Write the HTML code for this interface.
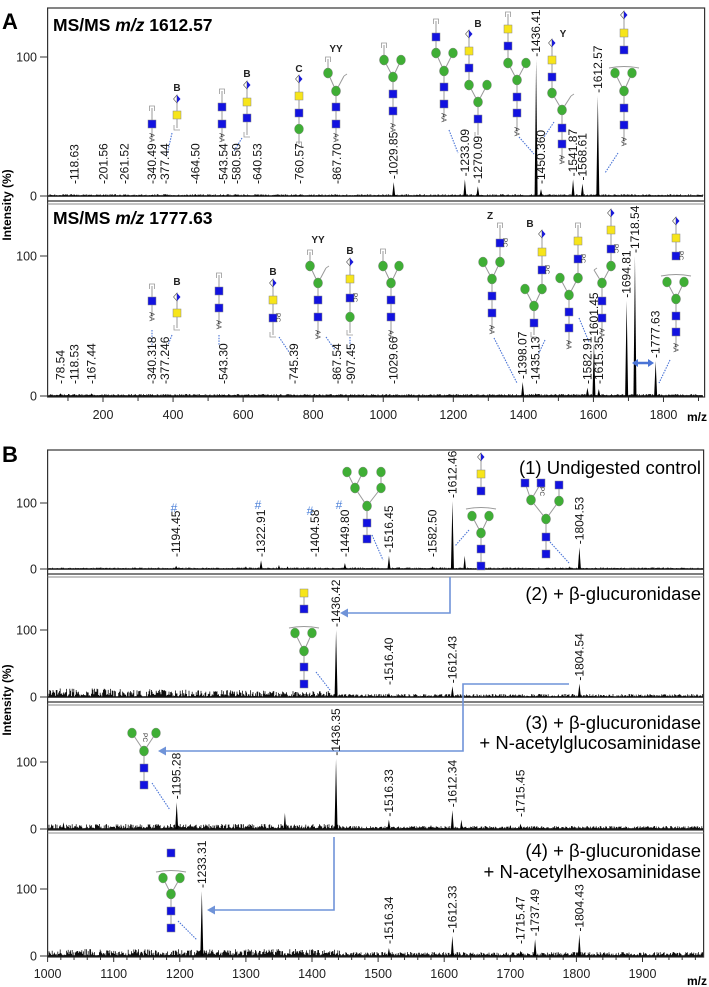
<!DOCTYPE html>
<html><head><meta charset="utf-8"><style>
html,body{margin:0;padding:0;background:#fff;}
svg{display:block;}
text{font-family:"Liberation Sans",sans-serif;}
.nar{font-family:"Liberation Sans Narrow","Liberation Sans",sans-serif;}
</style></head><body>
<svg id="fig" width="709" height="987" viewBox="0 0 709 987" xmlns="http://www.w3.org/2000/svg">
<g id="frames"></g>
<g id="noise"></g>
<g id="peaks"></g>
<g id="cartoons"></g>
<g id="texts"></g>
</svg>
<script>
// ---- Panel A data ----
const mzA1 = [118.63,201.56,261.52,340.49,377.44,464.50,543.54,580.50,640.53,760.57,867.70,1029.85,1233.09,1270.09,1436.41,1450.36,1541.87,1568.61,1612.57];
const intA1 = [1,1,1,1,1,1,1,1,1,1,1,10,12,7,98,5,12,9,72];
const labA1 = ["118.63","201.56","261.52","340.49","377.44","464.50","543.54","580.50","640.53","760.57","867.70","1029.85","1233.09","1270.09","1436.41","1450.360","1541.87","1568.61","1612.57"];
const mzA2 = [78.54,118.53,167.44,340.318,377.246,543.30,745.39,867.54,907.45,1029.66,1398.07,1435.13,1582.91,1601.45,1615.35,1694.81,1718.54,1777.63];
const intA2 = [2,1,2,1,1,1,1,1,1,1,10,2,6,38,5,68,100,25];
const labA2 = ["78.54","118.53","167.44","340.318","377.246","543.30","745.39","867.54","907.45","1029.66","1398.07","1435.13","1582.91","1601.45","1615.35","1694.81","1718.54","1777.63"];
const ticksA = [200,400,600,800,1000,1200,1400,1600,1800];
// ---- Panel B data ----
const mzB1 = [1194.45,1322.91,1404.58,1449.80,1516.45,1582.50,1612.46,1804.53];
const intB1 = [5,13,3,9,20,4,103,33];
const labB1 = ["1194.45","1322.91","1404.58","1449.80","1516.45","1582.50","1612.46","1804.53"];
const minorMzB1 = [1300,1350,1363,1532,1594,1631,1790];
const minorIntB1 = [4,6,4,3,3,20,4];
const mzB2 = [1436.42,1516.40,1612.43,1804.54];
const intB2 = [100,6,16,20];
const labB2 = ["1436.42","1516.40","1612.43","1804.54"];
const mzB3 = [1195.28,1436.35,1516.33,1612.34,1715.45];
const intB3 = [40,105,14,28,8];
const labB3 = ["1195.28","1436.35","1516.33","1612.34","1715.45"];
const minorMzB3 = [1024,1359,1580,1626,1700];
const minorIntB3 = [10,24,6,14,6];
const mzB4 = [1233.31,1516.34,1612.33,1715.47,1737.49,1804.43];
const intB4 = [97,12,30,8,25,32];
const labB4 = ["1233.31","1516.34","1612.33","1715.47","1737.49","1804.43"];
const ticksB = [1000,1100,1200,1300,1400,1500,1600,1700,1800,1900];

const NS="http://www.w3.org/2000/svg";
function mk(parent,tag,attrs,txt){const e=document.createElementNS(NS,tag);for(const k in attrs)e.setAttribute(k,attrs[k]);if(txt!==undefined)e.textContent=txt;document.getElementById(parent).appendChild(e);return e;}
const xA = mz => 103 + (mz-200)*0.3503;
const xB = mz => 47.6 + (mz-1000)*0.661;
function yS(y0,y100){return v => y0 - v/100*(y0-y100);}

const panels = [
 {name:"a1",mz:mzA1,it:intA1,lab:labA1,x:xA,y0:196,y100:57},
 {name:"a2",mz:mzA2,it:intA2,lab:labA2,x:xA,y0:396,y100:256},
 {name:"b1",mz:mzB1,it:intB1,lab:labB1,x:xB,y0:569,y100:503,mmz:minorMzB1,mit:minorIntB1},
 {name:"b2",mz:mzB2,it:intB2,lab:labB2,x:xB,y0:697,y100:630},
 {name:"b3",mz:mzB3,it:intB3,lab:labB3,x:xB,y0:829,y100:762,mmz:minorMzB3,mit:minorIntB3},
 {name:"b4",mz:mzB4,it:intB4,lab:labB4,x:xB,y0:956,y100:889}
];

// frames
let r=mk("frames","rect",{x:47.6,y:8,width:657,height:389,fill:"none",stroke:"#333","stroke-width":1.2});


r=mk("frames","rect",{x:47.6,y:450,width:656,height:507,fill:"none",stroke:"#333","stroke-width":1.2});


[[201,"#333",1.3],[204,"#888",1]].forEach(d=>{const l=mk("frames","line",{x1:47.6,x2:704.6,y1:d[0],y2:d[0],stroke:d[1],"stroke-width":d[2]});

});
[574,577,702,705,830,833].forEach((y,i)=>{const l=mk("frames","line",{x1:47.6,x2:703.6,y1:y,y2:y,stroke:i%2?"#888":"#333","stroke-width":i%2?1:1.3});

});

// y ticks
panels.forEach(p=>{
 [[0,p.y0],[100,p.y100]].forEach(t=>{
  const l=mk("frames","line",{x1:40,x2:47.6,y1:t[1],y2:t[1],stroke:"#333","stroke-width":1});
  
  
  const tx=mk("texts","text",{x:37,y:t[1]+4.5,"text-anchor":"end","font-size":12.5,class:"nar",fill:"#222"},String(t[0]));
  
  
 });
});
// x ticks A
for(let m=100;m<=1900;m+=100){const x=xA(m);if(x<48||x>704)continue;const major=ticksA.includes(m);
 const l=mk("frames","line",{x1:x,x2:x,y1:397,y2:major?402:401,stroke:"#333","stroke-width":1});
 
 }
ticksA.forEach(m=>{const t=mk("texts","text",{x:xA(m),y:419,"text-anchor":"middle","font-size":12.5,class:"nar",fill:"#222"},String(m));
 
 });
for(let m=1000;m<=1990;m+=20){const x=xB(m);const major=m%100===0;
 const l=mk("frames","line",{x1:x,x2:x,y1:957,y2:major?962:960,stroke:"#333","stroke-width":1});
 
 }
ticksB.forEach(m=>{const t=mk("texts","text",{x:xB(m),y:978,"text-anchor":"middle","font-size":12.5,class:"nar",fill:"#222"},String(m));
 
 });

// baseline noise (decorative texture)
function hash(i){const s=Math.sin(i*12.9898+78.233)*43758.5453;return s-Math.floor(s);}
function noise(y0,x1,x2,ampFn,seed){let d="";for(let x=x1;x<x2;x+=0.8){const h=ampFn(x)*hash(x*7.3+seed);d+=`M${x.toFixed(1)},${y0}V${(y0-h).toFixed(1)}`;}
 const p=mk("noise","path",{d:d,stroke:"#111","stroke-width":0.8,fill:"none"});
 
 }
noise(196,50,703,x=>1.8,1);
noise(396,50,703,x=>2,2);
noise(569,50,703,x=>1.5,3);
noise(697,49,703,x=>x<330?9-3*(x-49)/280:3,4);
noise(829,49,703,x=>x<340?5:3,5);
noise(956,49,703,x=>x<340?7:4,6);
panels.forEach(p=>{const l=mk("noise","line",{x1:48,x2:703,y1:p.y0,y2:p.y0,stroke:"#111","stroke-width":1.4});
 
 });

// peaks + labels
panels.forEach(p=>{
 const ys=yS(p.y0,p.y100);
 if(p.mmz){p.mmz.forEach((m,i)=>{const x=p.x(m),yt=ys(p.mit[i]);
  const e=mk("peaks","path",{d:`M${x-1.3},${p.y0}L${x},${yt}L${x+1.3},${p.y0}Z`,fill:"#000"});
  
  });}
 p.mz.forEach((m,i)=>{
  const x=p.x(m),yt=ys(p.it[i]);
  const e=mk("peaks","path",{d:`M${x-1.5},${p.y0}L${x},${yt}L${x+1.5},${p.y0}Z`,fill:"#000"});
  
  
  const lb=Math.min(yt,p.y0-9)-3;
  const t=mk("texts","text",{x:0,y:0,"font-size":12,fill:"#111",transform:`translate(${x+4},${lb}) rotate(-90)`},"-"+p.lab[i]);
  
  
 });
});

// titles & labels
function txt(x,y,s,attrs,name){const a=Object.assign({x:x,y:y,fill:"#000"},attrs);const t=mk("texts","text",a);t.innerHTML=s;
 
 return t;}
txt(2,29,"A",{"font-size":22,"font-weight":"bold"},"panel-a-letter");
txt(2,462,"B",{"font-size":22,"font-weight":"bold"},"panel-b-letter");
txt(53,31,"MS/MS <tspan font-style='italic'>m/z</tspan> 1612.57",{"font-size":17.5,"font-weight":"bold",class:"nar"},"title-ms-1612");
txt(53,224,"MS/MS <tspan font-style='italic'>m/z</tspan> 1777.63",{"font-size":17.5,"font-weight":"bold",class:"nar"},"title-ms-1777");
txt(11,205,"Intensity (%)",{"font-size":12,"font-weight":"bold",class:"nar","text-anchor":"middle",transform:"rotate(-90 11 205)"},"y-axis-title-a");
txt(11,700,"Intensity (%)",{"font-size":12,"font-weight":"bold",class:"nar","text-anchor":"middle",transform:"rotate(-90 11 700)"},"y-axis-title-b");
txt(697,421,"m/z",{"font-size":12,"font-weight":"bold",class:"nar","text-anchor":"middle"},"x-axis-title-a");
txt(697,985,"m/z",{"font-size":12,"font-weight":"bold",class:"nar","text-anchor":"middle"},"x-axis-title-b");
const tA={"font-size":18.5,class:"nar","text-anchor":"end"};
txt(701,474,"(1) Undigested control",tA,"panel-1-title");
txt(701,600,"(2) + β-glucuronidase",tA,"panel-2-title");
txt(701,729,"(3) + β-glucuronidase",tA,"panel-3-title");
txt(701,749,"+ N-acetylglucosaminidase",tA,"panel-3-subtitle");
txt(701,857,"(4) + β-glucuronidase",tA,"panel-4-title");
txt(701,878,"+ N-acetylhexosaminidase",tA,"panel-4-subtitle");
[[174,512],[258,509],[310,515],[339,509]].forEach(h=>txt(h[0],h[1],"#",{"font-size":12,fill:"#4a7fd8","text-anchor":"middle"},"hash-marker"));

// glycan cartoons (annotations)
function C(tag,attrs,name){const e=mk("cartoons",tag,attrs);return e;}
function ln(x1,y1,x2,y2){C("line",{x1,y1,x2,y2,stroke:"#999","stroke-width":1},"glycan-bond");}
function sym(t,x,y){
 if(t==='B')C("rect",{x:x-4,y:y-4,width:8,height:8,fill:"#1212e0",stroke:"#888","stroke-width":0.5},"glcnac-square");
 else if(t==='Y')C("rect",{x:x-4,y:y-4,width:8,height:8,fill:"#f7e51a",stroke:"#888","stroke-width":0.5},"gal-square");
 else if(t==='G')C("ellipse",{cx:x,cy:y,rx:4.5,ry:5,fill:"#3fae35",stroke:"#888","stroke-width":0.4},"man-circle");
 else if(t==='D'){C("path",{d:`M${x},${y-4}L${x-3.5},${y}L${x},${y+4}Z`,fill:"#fff",stroke:"#555","stroke-width":0.6},"glca-diamond");C("path",{d:`M${x},${y-4}L${x+3.5},${y}L${x},${y+4}Z`,fill:"#1a1ad8"},"glca-diamond");}
 else if(t==='T')C("path",{d:`M${x-2.5},${y+3}V${y-2}H${x+2.5}V${y+3}`,fill:"none",stroke:"#999","stroke-width":0.8},"reducing-tick");
 else if(t==='t')C("path",{d:`M${x},${y}l3,-2`,fill:"none",stroke:"#999","stroke-width":0.8},"branch-tick");
 else if(t==='R')C("path",{d:`M${x-3},${y-3}V${y+2}H${x+3}`,fill:"none",stroke:"#999","stroke-width":0.8},"reducing-end");
 else if(t==='A'){const e=C("text",{x:0,y:0,"font-size":7,fill:"#333",transform:`translate(${x-2.5},${y-5}) rotate(90)`},"aa-label");e.textContent="AA";}
}
function stack(x,items){ln(x,items[0][1],x,items[items.length-1][1]);items.forEach(it=>sym(it[0],x,it[1]));}
function branch(cx,cy,pts){pts.forEach(p=>ln(cx,cy,p[1],p[2]));pts.forEach(p=>sym(p[0],p[1],p[2]));sym('G',cx,cy);}
function L(s,x,y){const e=C("text",{x,y:y+4,"font-size":10,"font-weight":"bold",class:"nar","text-anchor":"middle",fill:"#222"},"fragment-type-label");e.textContent=s;}
function PC(x,y){const e=C("text",{x:0,y:0,"font-size":6.5,fill:"#333",transform:`translate(${x+3},${y-5}) rotate(90)`},"pc-label");e.textContent="PC";}
function dot(x1,y1,x2,y2){C("line",{x1,y1,x2,y2,stroke:"#4a74d6","stroke-width":1.1,"stroke-dasharray":"1.5,1.2"},"leader-line");}
function hb(x,y){C("path",{d:`M${x-15},${y+1}Q${x},${y-2} ${x+15},${y+1}`,fill:"none",stroke:"#999","stroke-width":0.9},"bracket");}

// A1
stack(152,[['T',108],['B',124],['A',138]]);
L('B',177,87);stack(177,[['D',99],['Y',115],['R',128]]);dot(172,133,167,155);
stack(222,[['T',91],['B',107],['B',124],['A',138]]);
L('B',247,73);stack(247,[['D',85],['Y',102],['B',118],['R',135]]);dot(242,138,234,151);
L('C',299,68);stack(299,[['D',79],['Y',96],['B',113],['G',129],['T',144]]);
L('YY',336,48);stack(328,[['T',59],['G',73]]);branch(336,91,[['G',328,73],['t',344,76]]);stack(336,[['G',91],['B',107],['B',124],['A',138]]);
stack(384,[['T',45],['G',60]]);branch(393,77,[['G',384,60],['G',401,60]]);stack(393,[['G',77],['B',94],['B',111],['A',128]]);
stack(436,[['T',21],['B',37],['G',53]]);branch(444,71,[['G',436,53],['G',453,53]]);stack(444,[['G',71],['B',87],['B',104],['A',118]]);dot(449,130,458,153);
L('B',478,23);stack(469,[['D',34],['Y',51],['B',68],['G',85]]);branch(478,102,[['G',469,85],['G',487,85]]);stack(478,[['G',102],['B',119],['R',135]]);
stack(508,[['T',14],['Y',29],['B',46],['G',63]]);branch(517,80,[['G',508,63],['G',526,63]]);stack(517,[['G',80],['B',97],['B',113],['A',132]]);dot(519,137,534,154);
L('Y',563,33);stack(552,[['D',43],['Y',60],['B',77],['G',93]]);branch(562,110,[['G',552,93],['t',571,96]]);stack(562,[['G',110],['B',128],['B',144],['A',160]]);dot(554,122,544,137);
stack(624,[['D',15],['Y',33],['B',50]]);hb(624,67);branch(624,91,[['G',615,73],['G',632,73]]);stack(624,[['G',91],['B',108],['B',125],['A',142]]);dot(618,153,605,173);
// A2
stack(152,[['T',286],['B',301],['A',317]]);dot(152,330,152,345);
L('B',177,281);stack(177,[['D',297],['Y',313],['R',328]]);dot(172,335,168,345);
stack(219,[['T',275],['B',291],['B',308],['A',325]]);dot(219,335,219,345);
L('B',273,271);stack(273,[['D',283],['Y',300],['B',318],['R',335]]);PC(273,318);dot(279,337,289,352);
L('YY',318,239);stack(310,[['T',252],['G',266]]);branch(318,283,[['G',310,266],['t',326,268]]);stack(318,[['G',283],['B',300],['B',317],['A',335]]);dot(326,337,335,350);
L('B',350,250);stack(350,[['D',262],['Y',279],['B',298],['G',317],['R',333]]);PC(350,298);dot(350,337,350,350);
stack(383,[['T',251],['G',266]]);branch(391,283,[['G',383,266],['G',399,266]]);stack(391,[['G',283],['B',300],['B',317],['A',335]]);
L('Z',490,215);stack(500,[['T',225],['B',243],['G',262]]);PC(500,243);branch(492,279,[['G',483,262],['G',500,262]]);stack(492,[['G',279],['B',296],['B',313],['A',330]]);dot(494,338,517,383);
L('B',530,223);stack(542,[['D',234],['Y',252],['B',270],['G',289]]);PC(542,270);branch(534,306,[['G',525,289],['G',542,289]]);stack(534,[['G',306],['B',323],['R',335]]);dot(545,340,538,355);
stack(578,[['T',225],['Y',241],['B',259],['G',278]]);PC(578,259);branch(569,295,[['G',560,278],['G',578,278]]);stack(569,[['G',295],['B',312],['B',328],['A',345]]);dot(579,318,589,342);
stack(611,[['D',213],['Y',230],['B',249],['G',266]]);PC(611,249);branch(602,283,[['t',594,270],['G',611,266]]);stack(602,[['G',283],['B',301],['B',318],['A',333]]);
stack(676,[['D',221],['Y',238],['B',256]]);PC(676,256);hb(676,275);branch(676,299,[['G',667,282],['G',684,282]]);stack(676,[['G',299],['B',316],['B',332],['A',348]]);dot(670,360,659,383);
// double arrow
C("path",{d:"M636,363H650",stroke:"#4a74d6","stroke-width":2.5},"double-arrow");
C("path",{d:"M632,363l6,-4v8z M654,363l-6,-4v8z",fill:"#4a74d6"},"double-arrow-heads");
// B cartoons
branch(355,488,[['G',347,472],['G',363,472]]);ln(381,472,381,488);sym('G',381,472);branch(367,506,[['G',355,488],['G',381,488]]);stack(367,[['G',506],['B',523],['B',539]]);dot(372,535,383,560);
stack(481,[['D',457],['Y',474],['B',491]]);hb(481,508);branch(481,533,[['G',472,516],['G',489,516]]);stack(481,[['G',533],['B',549],['B',566]]);dot(469,530,455,546);
branch(531,500,[['B',525,483],['B',541,483]]);stack(559,[['B',485],['G',501]]);branch(546,519,[['G',531,500],['G',559,501]]);stack(546,[['G',519],['B',537],['B',554]]);PC(537,492);dot(550,542,569,563);
stack(304,[['Y',593],['B',609]]);hb(304,627);branch(304,651,[['G',295,633],['G',312,633]]);stack(304,[['G',651],['B',667],['B',684]]);dot(316,672,330,690);
branch(144,751,[['G',132,733],['G',156,733]]);PC(140,738);stack(144,[['G',751],['B',768],['B',785]]);dot(152,783,170,810);
stack(171,[['B',853]]);hb(171,871);branch(171,894,[['G',163,878],['G',180,878]]);stack(171,[['G',894],['B',911],['B',928]]);dot(178,921,197,940);
// digestion arrows
function arrow(pts,name){const d="M"+pts.map(p=>p.join(",")).join("L");C("path",{d,fill:"none",stroke:"#6f93d8","stroke-width":1.6},name);
 const a=pts[pts.length-1];C("path",{d:`M${a[0]-6},${a[1]}l8,-4.5v9z`,fill:"#6f93d8"},name+"-head");}
arrow([[450,577],[450,613],[346,613]],"arrow-1612-to-1436");
arrow([[569,684],[463,684],[463,751],[164,751]],"arrow-1804-to-1195");
arrow([[334,837],[334,910],[213,910]],"arrow-1436-to-1233");
</script>
</body></html>
